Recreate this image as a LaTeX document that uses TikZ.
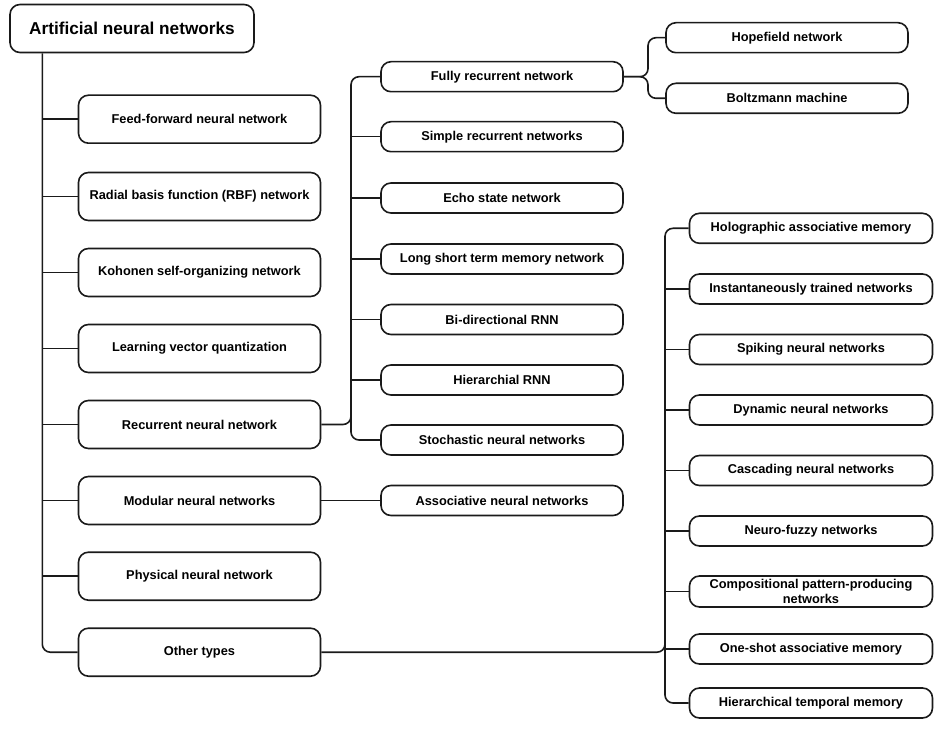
\documentclass[tikz,border=0pt]{standalone}
\usepackage{fontspec}
\setmainfont{Liberation Sans}
\usetikzlibrary{calc}
\definecolor{ink}{HTML}{1A1A1A}
\tikzset{
  box/.style={draw=ink, line width=1.6pt, rounded corners=10pt, align=center,
    inner sep=0pt, text=black, font=\fontsize{12.8}{14.3}\selectfont\bfseries},
  lbox/.style={box, minimum width=242pt, minimum height=48pt},
  mbox/.style={box, minimum width=242pt, minimum height=30pt},
  rbox/.style={box, minimum width=243pt, minimum height=30pt},
  conn/.style={draw=ink, line width=1.6pt, rounded corners=8pt},
}
\begin{document}
\begin{tikzpicture}[x=1pt,y=-1pt]
\useasboundingbox (0,0) rectangle (946,730);
% root
\node[box, minimum width=244pt, minimum height=48pt, font=\fontsize{17.2}{20}\selectfont\bfseries] (root) at (132,28.5) {Artificial neural networks};
% left column
\node[lbox] (ff)  at (199.5,119.2) {Feed-forward neural network};
\node[lbox] (rbf) at (199.5,196.5) {Radial basis function (RBF) network};
\node[lbox] (som) at (199.5,272.5) {Kohonen self-organizing network};
\node[lbox] (lvq) at (199.5,348.5) {Learning vector quantization};
\node[lbox] (rnn) at (199.5,424.5) {Recurrent neural network};
\node[lbox] (mod) at (199.5,500.5) {Modular neural networks};
\node[lbox] (phy) at (199.5,576.2) {Physical neural network};
\node[lbox] (oth) at (199.5,652.2) {Other types};
% middle column
\node[mbox] (frn)  at (502,76.7)  {Fully recurrent network};
\node[mbox] (srn)  at (502,136.7) {Simple recurrent networks};
\node[mbox] (esn)  at (502,198)   {Echo state network};
\node[mbox] (lstm) at (502,259)   {Long short term memory network};
\node[mbox] (brnn) at (502,319.5) {Bi-directional RNN};
\node[mbox] (hrnn) at (502,380)   {Hierarchial RNN};
\node[mbox] (snn)  at (502,440)   {Stochastic neural networks};
\node[mbox] (ann)  at (502,500.5) {Associative neural networks};
% fork
\node[box, minimum width=242pt, minimum height=30pt] (hop) at (787,37.7) {Hopefield network};
\node[box, minimum width=242pt, minimum height=30pt] (bol) at (787,98.3) {Boltzmann machine};
% right column
\node[rbox] (ham) at (811,228.3) {Holographic associative memory};
\node[rbox] (itn) at (811,289)   {Instantaneously trained networks};
\node[rbox] (spk) at (811,349.5) {Spiking neural networks};
\node[rbox] (dyn) at (811,410)   {Dynamic neural networks};
\node[rbox] (cas) at (811,470.5) {Cascading neural networks};
\node[rbox] (nfz) at (811,531)   {Neuro-fuzzy networks};
\node[rbox, minimum height=31pt] (cpp) at (811,591.5) {Compositional pattern-producing\\networks};
\node[rbox] (osa) at (811,649)   {One-shot associative memory};
\node[rbox] (htm) at (811,703)   {Hierarchical temporal memory};
% guide coordinates
\coordinate (tk) at (42.3,0);
\coordinate (rv) at (351,0);
\coordinate (fv) at (648,0);
\coordinate (ov) at (665,0);
% trunk
\draw[conn] (root.south -| tk) -- (oth.west -| tk) -- (oth.west);
\foreach \n in {ff,rbf,som,lvq,rnn,mod,phy}
  \draw[conn] (\n.west -| tk) -- (\n.west);
% recurrent branch
\draw[conn] (frn.west) -- (frn.west -| rv) -- (snn.west -| rv) -- (snn.west);
\draw[conn] (rnn.east) -- (rnn.east -| rv) -- ($(rnn.east -| rv)+(0,-16)$);
\foreach \n in {srn,esn,lstm,brnn,hrnn}
  \draw[conn] (\n.west -| rv) -- (\n.west);
% fork from fully recurrent
\draw[conn] (frn.east) -- (frn.east -| fv) -- (hop.west -| fv) -- (hop.west);
\draw[conn] (frn.east) -- (frn.east -| fv) -- (bol.west -| fv) -- (bol.west);
% modular -> associative
\draw[conn] (mod.east) -- (ann.west);
% other types branch
\draw[conn] (ham.west) -- (ham.west -| ov) -- (htm.west -| ov) -- (htm.west);
\draw[conn] (oth.east) -- (oth.east -| ov) -- ($(oth.east -| ov)+(0,-16)$);
\foreach \n in {itn,spk,dyn,cas,nfz,cpp,osa}
  \draw[conn] (\n.west -| ov) -- (\n.west);
\end{tikzpicture}
\end{document}
